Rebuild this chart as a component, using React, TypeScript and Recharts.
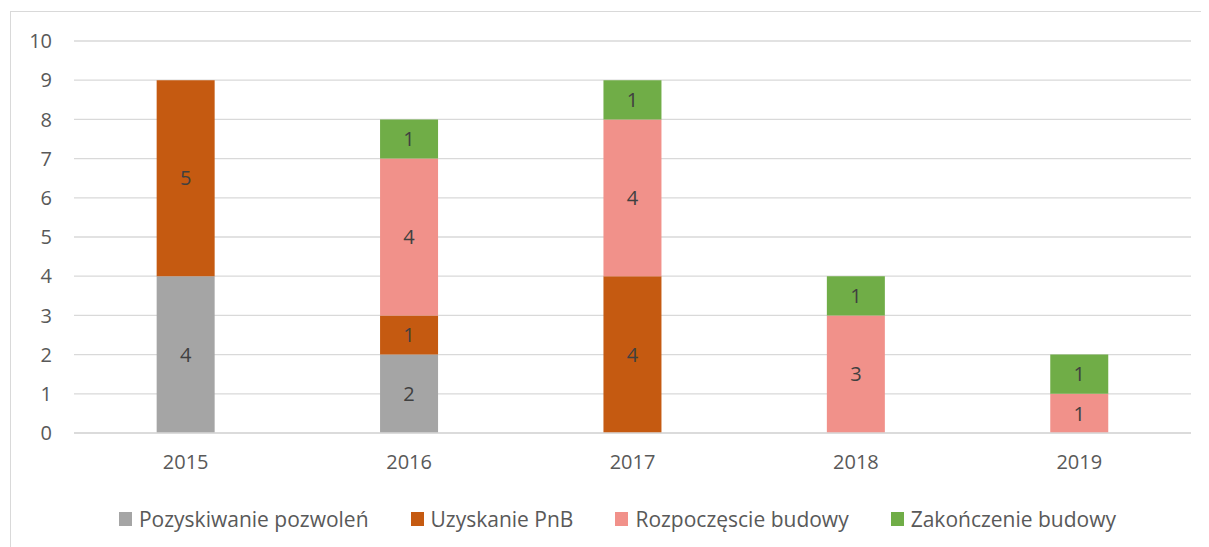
import { BarChart, Bar, XAxis, YAxis, CartesianGrid, LabelList, Legend } from "recharts";

const years = ["2015", "2016", "2017", "2018", "2019"];
const pozwolen = [4, 2, 0, 0, 0];
const pnb = [5, 1, 4, 0, 0];
const rozpoczecie = [0, 4, 4, 3, 1];
const zakonczenie = [0, 1, 1, 1, 1];
const yTicks = [0, 1, 2, 3, 4, 5, 6, 7, 8, 9, 10];

const series = [
  { key: "pozwolen", name: "Pozyskiwanie pozwoleń", color: "#A5A5A5" },
  { key: "pnb", name: "Uzyskanie PnB", color: "#C55A11" },
  { key: "rozpoczecie", name: "Rozpoczęscie budowy", color: "#F1918A" },
  { key: "zakonczenie", name: "Zakończenie budowy", color: "#70AD47" },
];

const data = years.map((year, i) => ({
  year,
  pozwolen: pozwolen[i],
  pnb: pnb[i],
  rozpoczecie: rozpoczecie[i],
  zakonczenie: zakonczenie[i],
}));

const FONT = "'Open Sans', sans-serif";

// legend drawn by hand so spacing matches the original
function LegendRow() {
  return (
    <div style={{ display: "flex", justifyContent: "center", gap: "42px", fontFamily: FONT, fontSize: 21, color: "#595959", paddingTop: 6, paddingLeft: 36 }}>
      {series.map((s) => (
        <div key={s.key} style={{ display: "flex", alignItems: "center", gap: "7px" }}>
          <span style={{ width: 13, height: 14, backgroundColor: s.color, display: "inline-block" }} />
          <span>{s.name}</span>
        </div>
      ))}
    </div>
  );
}

export default function App() {
  return (
    <div style={{ position: "relative", width: 1201, height: 539, overflow: "hidden", background: "#fff" }}>
      <div style={{ position: "absolute", left: 2, top: 3, width: 1400, height: 800, border: "1px solid #d9d9d9" }} />
      <BarChart
        width={1201}
        height={539}
        data={data}
        margin={{ top: 33, right: 18, left: 0, bottom: 0 }}
        barCategoryGap="37%"
        style={{ position: "absolute", left: 0, top: 0 }}
      >
        <CartesianGrid vertical={false} stroke="#d9d9d9" strokeWidth={1.3} />
        <XAxis
          dataKey="year"
          tickLine={false}
          axisLine={{ stroke: "#d9d9d9", strokeWidth: 1.3 }}
          tick={{ fill: "#595959", fontSize: 20, fontFamily: FONT }}
          tickMargin={16}
          height={66}
        />
        <YAxis
          domain={[0, 10]}
          ticks={yTicks}
          tickLine={false}
          axisLine={false}
          tickSize={0}
          tickMargin={22}
          width={66}
          tick={{ fill: "#595959", fontSize: 20, fontFamily: FONT }}
        />
        <Legend verticalAlign="bottom" height={48} content={() => <LegendRow />} />
        {series.map((s) => (
          <Bar key={s.key} dataKey={s.key} name={s.name} stackId="a" fill={s.color} isAnimationActive={false}>
            <LabelList
              dataKey={s.key}
              position="center"
              formatter={(v: any) => (v ? v : "")}
              style={{ fill: "#404040", fontSize: 20, fontFamily: FONT }}
            />
          </Bar>
        ))}
      </BarChart>
    </div>
  );
}
